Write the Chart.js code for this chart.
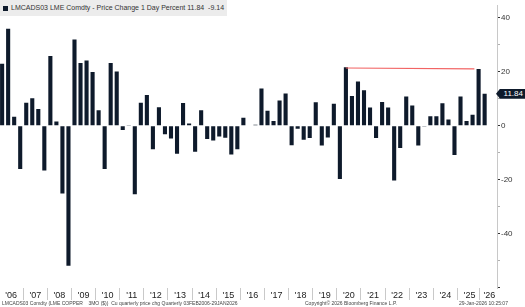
<!DOCTYPE html>
<html>
<head>
<meta charset="utf-8">
<script src="https://cdn.jsdelivr.net/npm/chart.js@4.4.1/dist/chart.umd.min.js"></script>
<style>
  html, body { margin: 0; padding: 0; background: #fff; }
  #wrap { position: relative; width: 525px; height: 307px; overflow: hidden; font-family: "Liberation Sans", Arial, sans-serif; }
  #chart { position: absolute; left: 0; top: 0; }
  #legend { position: absolute; left: 0; top: 0; width: 227px; height: 16px; background: #ececec; font-size: 7px; color: #333; line-height: 16px; white-space: nowrap; }
  #legend .sw { display: inline-block; width: 5px; height: 5px; background: #0e1a2b; margin: 0 3px 0 3px; vertical-align: -0.5px; }
  #tag { position: absolute; left: 496px; width: 29px; height: 10px; background: #0e1a2b; color: #fff; font-size: 8px; line-height: 10px; text-align: right; padding-right: 2px; box-sizing: border-box; clip-path: polygon(0 50%, 4px 0, 100% 0, 100% 100%, 4px 100%); }
  .foot { position: absolute; top: 300px; font-size: 5px; color: #444; white-space: pre; }
</style>
</head>
<body>
<div id="wrap">
  <canvas id="chart" width="525" height="307"></canvas>
  <div id="legend"><span class="sw"></span>LMCADS03 LME Comdty - Price Change 1 Day Percent 11.84&nbsp;&nbsp;-9.14</div>
  <div id="tag">11.84</div>
  <div class="foot" style="left:2px">LMCADS03 Comdty (LME COPPER    3MO ($))  Cu quarterly price chg Quarterly 03FEB2006-29JAN2026</div>
  <div class="foot" style="left:305px">Copyright© 2026 Bloomberg Finance L.P.</div>
  <div class="foot" style="left:459px">29-Jan-2026 10:25:07</div>
</div>
<script>
// quarterly % change, Q1 2006 .. Q1 2026
const changes = [
  23, 36, 3.3, -16.1, 8.5, 10.2, 6.2, -16.7, 25.9, 1.5,
  -25.2, -52, 32, 23.3, 24.2, 19.9, 5.7, -16.1, 23.3, 20.1,
  -1.6, 0.2, -25.5, 8.5, 11.4, -8.8, 6.8, -3.2, -4.8, -10.4,
  8.4, 0.8, -9.7, 5.7, -5.0, -5.5, -4.0, -4.5, -10.7, -8.8,
  2.9, -0.2, 0.3, 13.8, 5.5, 1.7, 9.3, 11.9, -7.3, -1.2,
  -5.2, -4.6, 8.7, -7.4, -4.4, 8.1, -19.8, 21.7, 11, 16.4,
  13.1, 6.7, -4.6, 8.8, 6.7, -20.4, -8.3, 10.8, 7.5, -7.4,
  -0.3, 3.5, 3.5, 8.3, 2.3, -10.9, 10.8, 1.7, 4.0, 21,
  11.84
]
const yearLabels = ["'06","'07","'08","'09","'10","'11","'12","'13","'14","'15",
  "'16","'17","'18","'19","'20","'21","'22","'23","'24","'25","'26"]
// red trend line drawn across the 2020 / 2025 highs
const trendX = [57, 78.3]
const trendY = [21.4, 21.1]

const xMin = -0.35
const xMax = 82.05
const perYear = 4
const font = '"Liberation Sans", Arial, sans-serif'

// tick at the middle of each year, last year runs to the edge of the plot
const yearTicks = yearLabels.map((l, k) => {
  const start = k * perYear - 0.5
  const end = Math.min(start + perYear, xMax)
  return (start + end) / 2
})

const tagPlugin = {
  id: 'tag',
  afterDraw(chart) {
    const y = chart.scales.y.getPixelForValue(changes[changes.length - 1])
    const tag = document.getElementById('tag')
    tag.style.top = (y - 5) + 'px'
    tag.style.left = (chart.chartArea.right - 1) + 'px'
  }
}

new Chart(document.getElementById('chart'), {
  type: 'bar',
  data: {
    datasets: [
      {
        type: 'line',
        data: trendX.map((x, i) => ({x: x, y: trendY[i]})),
        borderColor: '#f26464',
        borderWidth: 1.2,
        pointRadius: 0,
        order: 0
      },
      {
        data: changes.map((v, i) => ({x: i, y: v})),
        backgroundColor: '#0e1a2b',
        borderWidth: 0,
        barPercentage: 0.68,
        categoryPercentage: 1,
        order: 1
      }
    ]
  },
  options: {
    responsive: false,
    animation: false,
    layout: { padding: { left: 0, right: 0, top: 0, bottom: 7 } },
    plugins: { legend: { display: false }, tooltip: { enabled: false } },
    scales: {
      x: {
        type: 'linear',
        offset: false,
        min: xMin,
        max: xMax,
        afterBuildTicks: s => { s.ticks = yearTicks.map(v => ({value: v})) },
        afterFit: s => {
          s.height = 12
          s.paddingLeft = 0
          s.paddingRight = 0
        },
        ticks: {
          autoSkip: false,
          maxRotation: 0,
          padding: -10,
          color: '#222',
          font: { family: font, size: 9 },
          callback: (v, i) => yearLabels[i]
        },
        grid: { offset: true, drawOnChartArea: false, tickLength: 12, color: '#c9c9c9' },
        border: { display: false }
      },
      y: {
        position: 'right',
        min: -60.3,
        max: 44.5,
        afterFit: s => { s.width = 28 },
        ticks: {
          stepSize: 10,
          includeBounds: false,
          padding: 1,
          color: '#333',
          font: { family: font, size: 8 },
          callback: v => (v % 20 === 0 && v > -60 ? v : '')
        },
        grid: {
          drawOnChartArea: false,
          tickLength: 3,
          color: c => (c.tick && c.tick.value % 20 === 0 ? '#333' : '#b0b0b0')
        },
        border: { color: '#c8c8c8' }
      }
    }
  },
  plugins: [tagPlugin]
})
</script>
</body>
</html>
